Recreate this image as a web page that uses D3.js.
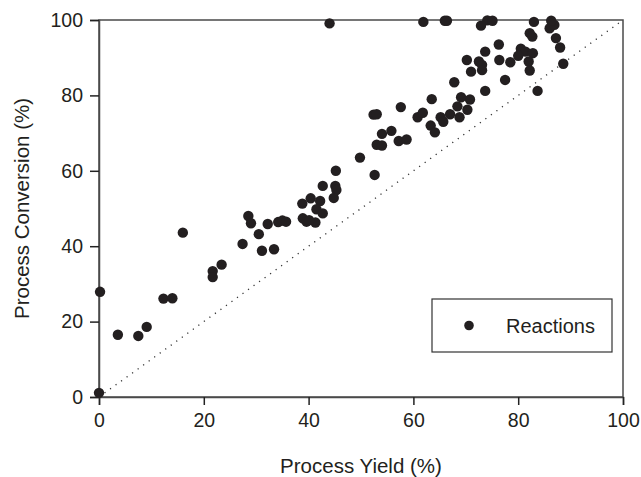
<!DOCTYPE html>
<html>
<head>
<meta charset="utf-8">
<script src="https://cdn.jsdelivr.net/npm/d3@7"></script>
<style>
  html, body { margin: 0; padding: 0; background: #fff; }
  svg text { font-family: "Liberation Sans", Arial, Helvetica, sans-serif; fill: #231f20; }
</style>
</head>
<body>
<svg id="chart" width="641" height="477"></svg>
<script>
// ---- Data ----
const processYield = [
  0, 0.2, 3.6, 7.5, 9.1, 12.3, 14, 16, 21.7, 21.7, 23.4, 27.4, 28.5, 29, 30.5, 31.1, 32.2, 33.4, 34.2, 35.0, 35.7,
  38.8, 40.4, 42.2, 41.5, 42.7, 38.9, 39.6, 41.3, 40.1, 42.7, 45.1, 45.3, 44.8, 45.2, 49.8, 52.6, 53, 54, 54, 55.8,
  57.2, 58.7, 52.4, 53, 57.6, 60.8, 61.8, 63.3, 64.1, 63.5, 65.2, 65.7, 67, 68.4, 68.8, 70.3, 70.8, 69.1, 67.8,
  70.2, 72.5, 73.1, 73.1, 71, 73.7, 76.3, 76.4, 78.5, 77.5, 73.7, 83.7, 80.5, 81.4, 82.8, 80, 82, 82.2, 88.6,
  82.2, 82.7, 87.2, 88, 86, 86.9, 86.3, 83, 74.1, 75.1, 72.9, 66, 66.4, 61.9, 44
];
const processConversion = [
  1.1, 27.9, 16.5, 16.2, 18.6, 26.1, 26.2, 43.6, 33.4, 31.8, 35.1, 40.6, 48, 46.1, 43.2, 38.8, 45.9, 39.2, 46.4, 46.8, 46.5,
  51.3, 52.7, 52, 49.8, 48.7, 47.4, 46.5, 46.3, 46.9, 56, 56, 54.9, 52.8, 60, 63.5, 58.9, 66.9, 66.7, 69.8, 70.6,
  67.9, 68.3, 74.9, 75, 76.9, 74.2, 75.4, 72, 70.2, 79, 74.2, 73, 75, 77.1, 74.2, 76.2, 78.9, 79.5, 83.5,
  89.4, 89.0, 88.1, 86.7, 86.3, 91.6, 93.5, 89.4, 88.8, 84.1, 81.2, 81.2, 92.4, 91.6, 91.2, 90.5, 89.0, 86.6, 88.4,
  96.5, 95.6, 95.2, 92.7, 97.8, 98.7, 99.8, 99.5, 99.9, 99.8, 98.5, 99.8, 99.8, 99.5, 99.1
];
const xTicks = [0, 20, 40, 60, 80, 100];
const yTicks = [0, 20, 40, 60, 80, 100];
const seriesName = "Reactions";
const xTitle = "Process Yield (%)";
const yTitle = "Process Conversion (%)";

// ---- Layout ----
const W = 641, H = 477;
const m = { left: 99, right: 18, top: 20, bottom: 80 };
const svg = d3.select("#chart");
const x = d3.scaleLinear().domain([0, 100]).range([m.left, W - m.right]);
const y = d3.scaleLinear().domain([0, 100]).range([H - m.bottom, m.top]);
const axisColor = "#4a4a4a";

// diagonal reference y = x (dotted)
svg.append("line")
  .attr("x1", x(0)).attr("y1", y(0))
  .attr("x2", x(100)).attr("y2", y(100))
  .attr("stroke", "#333").attr("stroke-width", 1.3)
  .attr("stroke-dasharray", "1.2 5.6");

// frame (top and right)
svg.append("rect")
  .attr("x", x(0)).attr("y", y(100))
  .attr("width", x(100) - x(0)).attr("height", y(0) - y(100))
  .attr("fill", "none").attr("stroke", axisColor).attr("stroke-width", 1.5);

// axes
const xAxis = svg.append("g")
  .attr("transform", `translate(0,${y(0)})`)
  .call(d3.axisBottom(x).tickValues(xTicks).tickSize(8).tickPadding(8).tickFormat(d3.format("d")));
const yAxis = svg.append("g")
  .attr("transform", `translate(${x(0)},0)`)
  .call(d3.axisLeft(y).tickValues(yTicks).tickSize(9).tickPadding(7).tickFormat(d3.format("d")));
[xAxis, yAxis].forEach(g => {
  g.select(".domain").attr("stroke", axisColor).attr("stroke-width", 1.5);
  g.selectAll(".tick line").attr("stroke", "#222").attr("stroke-width", 1.5);
  g.selectAll(".tick text").attr("font-size", 19.5).attr("fill", "#231f20")
    .attr("font-family", "Liberation Sans, Arial, sans-serif");
});

// points
const pts = processYield.map((v, i) => ({ px: v, py: processConversion[i] }));
svg.append("g").selectAll("circle").data(pts).join("circle")
  .attr("cx", d => x(d.px)).attr("cy", d => y(d.py))
  .attr("r", 5.2).attr("fill", "#231f20");

// axis titles
svg.append("text")
  .attr("x", (x(0) + x(100)) / 2).attr("y", 473)
  .attr("text-anchor", "middle").attr("font-size", 20.5)
  .text(xTitle);
svg.append("text")
  .attr("transform", `translate(29,${(y(0) + y(100)) / 2}) rotate(-90)`)
  .attr("text-anchor", "middle").attr("font-size", 20.5)
  .text(yTitle);

// legend
const lg = svg.append("g");
lg.append("rect")
  .attr("x", 432).attr("y", 299).attr("width", 180).attr("height", 53)
  .attr("fill", "#fff").attr("stroke", "#333").attr("stroke-width", 1.2);
lg.append("circle").attr("cx", 469).attr("cy", 325.5).attr("r", 4.8).attr("fill", "#231f20");
lg.append("text").attr("x", 506).attr("y", 333).attr("font-size", 20).text(seriesName);
</script>
</body>
</html>
